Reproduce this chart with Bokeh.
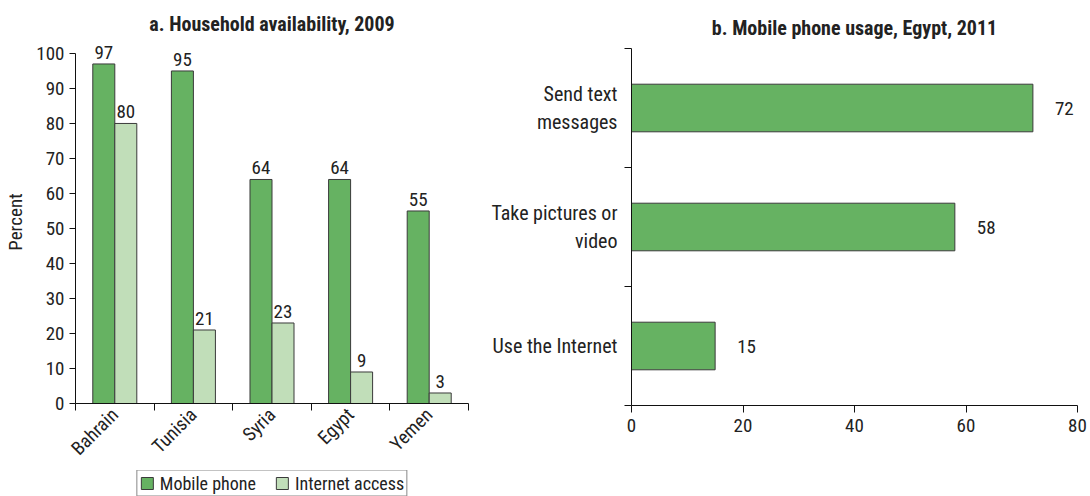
import math
from bokeh.plotting import figure
from bokeh.layouts import row, column
from bokeh.models import ColumnDataSource, FixedTicker, Range1d, Legend, LegendItem
from bokeh.core.properties import value
from bokeh.embed import file_html
from bokeh.resources import INLINE

# ---- data ----
countries = ["Bahrain", "Tunisia", "Syria", "Egypt", "Yemen"]
mobile = [97, 95, 64, 64, 55]
internet = [80, 21, 23, 9, 3]
series_names = ["Mobile phone", "Internet access"]

usage_labels = ["Send text\nmessages", "Take pictures or\nvideo", "Use the Internet"]
usage = [72, 58, 15]

y_ticks_a = [0, 10, 20, 30, 40, 50, 60, 70, 80, 90, 100]
x_ticks_b = [0, 20, 40, 60, 80]

# ---- style ----
FONT = "Roboto Condensed"
DARK = "#66b262"
LIGHT = "#c1deb9"
EDGE = "#3a3a3a"
TXT = "#222222"
FS = "19px"
FS_CAT = "20px"
FS_TITLE = "20px"
FS_LEG = "18px"

def style_axes(p):
    for ax in p.axis:
        ax.major_label_text_font = FONT
        ax.major_label_text_font_size = FS
        ax.major_label_text_color = TXT
        ax.axis_line_color = "#111111"
        ax.major_tick_line_color = "#111111"
        ax.minor_tick_line_color = "#111111"
        ax.axis_label_text_font = FONT
        ax.axis_label_text_font_style = "normal"
        ax.axis_label_text_font_size = FS
        ax.axis_label_text_color = TXT
    p.grid.visible = False
    p.outline_line_color = None
    p.title.text_font = FONT
    p.title.text_font_size = FS_TITLE
    p.title.text_font_style = "bold"
    p.title.text_color = TXT
    p.title.align = "center"

# ---- panel a ----
n = len(countries)
idx = list(range(n))
bw = 0.28
src_a = ColumnDataSource(dict(
    xm=[i + 0.5 - bw / 2 for i in idx],
    xi=[i + 0.5 + bw / 2 for i in idx],
    mobile=mobile,
    internet=internet,
    mlab=[str(v) for v in mobile],
    ilab=[str(v) for v in internet],
))

pa = figure(width=488, height=470, output_backend="svg", toolbar_location=None,
            x_range=Range1d(0, n), y_range=Range1d(0, 103.7),
            title="a. Household availability, 2009",
            min_border_left=75, min_border_right=20, min_border_top=40, min_border_bottom=65)
pa.vbar(x="xm", top="mobile", width=bw, source=src_a, fill_color=DARK, line_color=EDGE, line_width=1)
pa.vbar(x="xi", top="internet", width=bw, source=src_a, fill_color=LIGHT, line_color=EDGE, line_width=1)
pa.text(x="xm", y="mobile", text="mlab", source=src_a, text_align="center", text_baseline="bottom",
        y_offset=-5, text_font=value(FONT), text_font_size=FS, text_color=TXT)
pa.text(x="xi", y="internet", text="ilab", source=src_a, text_align="center", text_baseline="bottom",
        y_offset=-5, text_font=value(FONT), text_font_size=FS, text_color=TXT)

pa.yaxis.ticker = FixedTicker(ticks=y_ticks_a)
pa.yaxis.bounds = (0, 100)
pa.yaxis.axis_label = "Percent"
pa.yaxis.major_tick_out = 6
pa.yaxis.major_tick_in = 0
pa.yaxis.minor_tick_out = 0
pa.yaxis.major_label_standoff = 5
pa.yaxis.axis_label_standoff = 6

pa.xaxis.ticker = FixedTicker(ticks=[i + 0.5 for i in idx], minor_ticks=list(range(n + 1)))
pa.xaxis.major_label_overrides = {i + 0.5: c for i, c in zip(idx, countries)}
pa.xaxis.major_label_orientation = math.pi / 4
pa.xaxis.major_tick_out = 0
pa.xaxis.major_tick_in = 0
pa.xaxis.minor_tick_out = 7
pa.xaxis.minor_tick_in = 0
pa.xaxis.major_label_standoff = 1
style_axes(pa)
pa.title.standoff = 10

# ---- legend strip under panel a ----
pleg = figure(width=488, height=26, output_backend="svg", toolbar_location=None,
              x_range=Range1d(0, n), y_range=Range1d(-200, -100),
              min_border_left=75, min_border_right=20, min_border_top=0, min_border_bottom=0)
pleg.axis.visible = False
pleg.grid.visible = False
pleg.outline_line_color = None
lr1 = pleg.vbar(x="xm", top="mobile", width=bw, source=src_a, fill_color=DARK, line_color=EDGE, line_width=1)
lr2 = pleg.vbar(x="xi", top="internet", width=bw, source=src_a, fill_color=LIGHT, line_color=EDGE, line_width=1)
lr1.visible = False
lr2.visible = False
legend = Legend(items=[LegendItem(label=series_names[0], renderers=[lr1]),
                       LegendItem(label=series_names[1], renderers=[lr2])],
                orientation="horizontal", location="center",
                label_text_font=FONT, label_text_font_size=FS_LEG, label_text_color=TXT,
                border_line_color="#111111", border_line_width=1,
                inactive_fill_alpha=0,
                glyph_width=15, glyph_height=15, spacing=18, padding=2, margin=0,
                label_standoff=6, label_height=15)
pleg.add_layout(legend)

# ---- panel b ----
m = len(usage)
ypos = [m - 0.5 - i for i in range(m)]
bh = 0.4
src_b = ColumnDataSource(dict(y=ypos, v=usage, lab=[str(v) for v in usage]))

pb = figure(width=600, height=496, output_backend="svg", toolbar_location=None,
            x_range=Range1d(0, 80), y_range=Range1d(0, m),
            title="b. Mobile phone usage, Egypt, 2011",
            min_border_left=140, min_border_right=11, min_border_top=48, min_border_bottom=91)
pb.hbar(y="y", right="v", height=bh, source=src_b, fill_color=DARK, line_color=EDGE, line_width=1)
pb.text(x="v", y="y", text="lab", source=src_b, text_align="left", text_baseline="middle",
        x_offset=22, text_font=value(FONT), text_font_size=FS, text_color=TXT)

pb.xaxis.ticker = FixedTicker(ticks=x_ticks_b)
pb.xaxis.major_tick_out = 7
pb.xaxis.major_tick_in = 0
pb.xaxis.minor_tick_out = 0
pb.xaxis.major_label_standoff = 6

pb.yaxis.ticker = FixedTicker(ticks=ypos, minor_ticks=list(range(m + 1)))
pb.yaxis.major_label_overrides = {y: l for y, l in zip(ypos, usage_labels)}
pb.yaxis.major_tick_out = 0
pb.yaxis.major_tick_in = 0
pb.yaxis.minor_tick_out = 7
pb.yaxis.minor_tick_in = 0
pb.yaxis.major_label_standoff = 7
style_axes(pb)
pb.yaxis.major_label_text_font_size = FS_CAT
pb.title.standoff = 18

layout = row(column(pa, pleg), pb)
open("out.html", "w").write(file_html(layout, INLINE))
